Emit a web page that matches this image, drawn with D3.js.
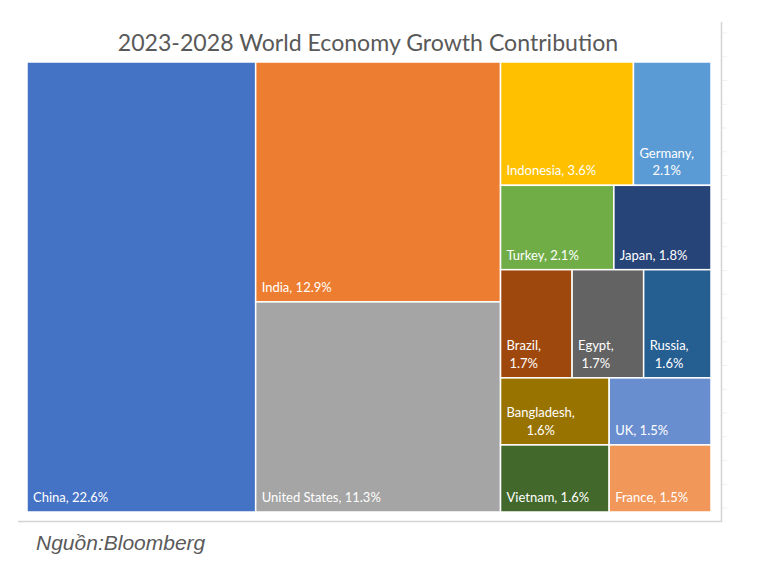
<!DOCTYPE html>
<html>
<head>
<meta charset="utf-8">
<script src="https://cdn.jsdelivr.net/npm/d3@7/dist/d3.min.js"></script>
<style>
  html, body { margin: 0; padding: 0; background: #ffffff; }
  svg { display: block; }
</style>
</head>
<body>
<svg id="chart" width="766" height="576"></svg>
<script>
// ---- data ----
const title = "2023-2028 World Economy Growth Contribution";
const source = "Nguồn:Bloomberg";
const countries = ["China", "India", "United States", "Indonesia", "Germany", "Turkey", "Japan",
                   "Brazil", "Egypt", "Russia", "Bangladesh", "UK", "Vietnam", "France"];
const shares = [22.6, 12.9, 11.3, 3.6, 2.1, 2.1, 1.8, 1.7, 1.7, 1.6, 1.6, 1.5, 1.6, 1.5];
const columnOf = [0, 1, 1, 2, 2, 2, 2, 2, 2, 2, 2, 2, 2, 2];
const rowOf    = [0, 0, 1, 0, 0, 1, 1, 2, 2, 2, 3, 3, 4, 4];
const colors = ["#4472C4", "#ED7D31", "#A5A5A5", "#FFC000", "#5B9BD5", "#70AD47", "#264478",
                "#9E480E", "#636363", "#255E91", "#997300", "#698ED0", "#43682B", "#F1975A"];

// ---- build hierarchy: columns -> rows -> countries ----
const leaves = countries.map((c, i) => ({ name: c, value: shares[i], color: colors[i], col: columnOf[i], row: rowOf[i] }));
const cols = Array.from(d3.group(leaves, d => d.col, d => d.row), ([ci, rows]) => ({
  name: "col" + ci,
  children: Array.from(rows, ([ri, items]) => ({ name: "row" + ri, children: items }))
}));
const root = d3.hierarchy({ name: "root", children: cols })
  .sum(d => d.children ? 0 : d.value);

const X0 = 27, Y0 = 62, W = 684, H = 450;
d3.treemap().tile(d3.treemapSliceDice).size([W, H]).round(false)(root);

const svg = d3.select("#chart");

// frame lines (spreadsheet edge)
svg.append("line").attr("x1", 721.5).attr("x2", 721.5).attr("y1", 22).attr("y2", 521.5)
  .attr("stroke", "#d4d4d4").attr("stroke-width", 1.5);
svg.append("line").attr("x1", 18).attr("x2", 722).attr("y1", 521.5).attr("y2", 521.5)
  .attr("stroke", "#d4d4d4").attr("stroke-width", 1.5);
const tickY = d3.scaleLinear().domain([0, 20]).range([33, 508]);
svg.append("g").selectAll("line").data(d3.range(0, 21)).join("line")
  .attr("x1", 722).attr("x2", 727)
  .attr("y1", d => tickY(d)).attr("y2", d => tickY(d))
  .attr("stroke", "#f0f0f0").attr("stroke-width", 1);

// title
svg.append("text").attr("x", 368).attr("y", 51)
  .attr("text-anchor", "middle")
  .attr("font-family", "Lato, 'Open Sans', sans-serif")
  .attr("font-size", 23.1).attr("fill", "#595959")
  .text(title);

// cells
const g = svg.append("g").attr("transform", `translate(${X0},${Y0})`);
const cell = g.selectAll("g.cell").data(root.leaves()).join("g").attr("class", "cell");
cell.append("rect")
  .attr("x", d => d.x0).attr("y", d => d.y0)
  .attr("width", d => d.x1 - d.x0).attr("height", d => d.y1 - d.y0)
  .attr("fill", d => d.data.color)
  .attr("stroke", "#ffffff").attr("stroke-width", 1.5);

const fmt = v => v.toFixed(1) + "%";
cell.each(function (d) {
  const sel = d3.select(this);
  const full = d.data.name + ", " + fmt(d.data.value);
  const t = sel.append("text")
    .attr("font-family", "Lato, 'Open Sans', sans-serif")
    .attr("font-size", 13).attr("fill", "#ffffff")
    .attr("text-anchor", "middle");
  t.text(full);
  const cw = d.x1 - d.x0;
  let lines = [full];
  if (t.node().getComputedTextLength() > cw - 10) {
    lines = [d.data.name + ",", fmt(d.data.value)];
  }
  t.text(null);
  const widths = lines.map(l => { t.text(l); const w = t.node().getComputedTextLength(); return w; });
  t.text(null);
  const bw = d3.max(widths);
  const cx = d.x0 + 6 + bw / 2;
  const lh = 17.5;
  lines.forEach((l, i) => {
    t.append("tspan").attr("x", cx)
      .attr("y", d.y1 - 10 - (lines.length - 1 - i) * lh)
      .text(l);
  });
});

// source
svg.append("text").attr("x", 36).attr("y", 550)
  .attr("font-family", "'Liberation Sans', Arial, sans-serif")
  .attr("font-style", "italic")
  .attr("font-size", 21).attr("fill", "#5a5a5a")
  .text(source);
</script>
</body>
</html>
